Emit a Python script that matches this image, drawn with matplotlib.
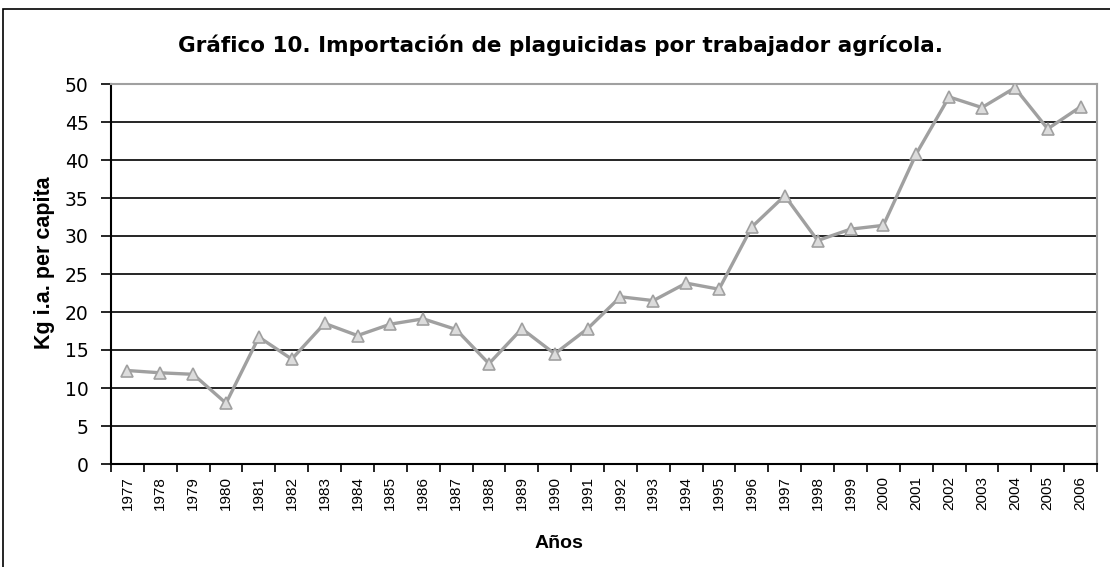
import numpy as np
import matplotlib
matplotlib.use('Agg')
import matplotlib.pyplot as plt
from matplotlib.patches import Rectangle

plt.rcParams['font.family'] = ['Liberation Sans', 'DejaVu Sans']

years = [str(y) for y in range(1977, 2007)]
kg_per_worker = [12.3, 12.0, 11.8, 8.0, 16.7, 13.8, 18.5, 16.9, 18.4, 19.1,
                 17.7, 13.2, 17.8, 14.5, 17.8, 22.0, 21.5, 23.8, 23.0, 31.2,
                 35.3, 29.4, 30.9, 31.4, 40.8, 48.3, 46.9, 49.5, 44.1, 47.0]
y_ticks = list(range(0, 55, 5))

W, H = 1110, 567
fig = plt.figure(figsize=(W / 100, H / 100), dpi=100)

# outer frame of the chart (runs off right and bottom)
fig.patches.append(Rectangle((3 / W, -0.05), 1.2, 1 - 9 / H + 0.05,
                             transform=fig.transFigure, fill=False,
                             edgecolor='black', linewidth=1.2))

ax = fig.add_axes([111 / W, 1 - 464 / H, (1097 - 111) / W, (464 - 84) / H])

n = len(years)
x = np.arange(n)
ax.plot(x, kg_per_worker, color='#a0a0a0', linewidth=2.4, marker='^',
        markersize=9, markerfacecolor='#dcdcdc', markeredgecolor='#a0a0a0',
        markeredgewidth=1.2, zorder=3)

ax.set_xlim(-0.5, n - 0.5)
ax.set_ylim(0, 50)
ax.set_yticks(y_ticks)
ax.set_yticklabels([str(v) for v in y_ticks], fontsize=13.5, family='DejaVu Sans')
for v in y_ticks[1:-1]:
    ax.axhline(v, color='black', linewidth=1.2, zorder=1)

# category ticks between labels
ax.set_xticks(np.arange(-0.5, n, 1.0))
ax.set_xticklabels([])
ax.set_xticks(x, minor=True)
ax.set_xticklabels(years, minor=True, rotation=90, fontsize=11,
                   family='Liberation Sans')
ax.tick_params(axis='x', which='major', length=6, width=1.2, direction='out')
ax.tick_params(axis='x', which='minor', length=0, pad=9)
ax.tick_params(axis='y', length=7, width=1.2, direction='out', pad=9)

for side in ['top', 'right']:
    ax.spines[side].set_color('#a0a0a0')
    ax.spines[side].set_linewidth(1.5)
for side in ['left', 'bottom']:
    ax.spines[side].set_color('black')
    ax.spines[side].set_linewidth(1.5)

fig.text(45 / W, 1 - 263 / H, 'Kg i.a. per capita', rotation=90, ha='center',
         va='center', fontsize=15.5, fontweight='bold')
fig.text(559 / W, 1 - 543 / H, 'Años', ha='center', va='center',
         fontsize=14, fontweight='bold')

fig.text(561 / W, 1 - 45 / H, 'Gráfico 10. Importación de plaguicidas por trabajador agrícola.',
         ha='center', va='center', fontsize=15.5, fontweight='bold',
         family='DejaVu Sans')

fig.savefig('out.png', dpi=100)
